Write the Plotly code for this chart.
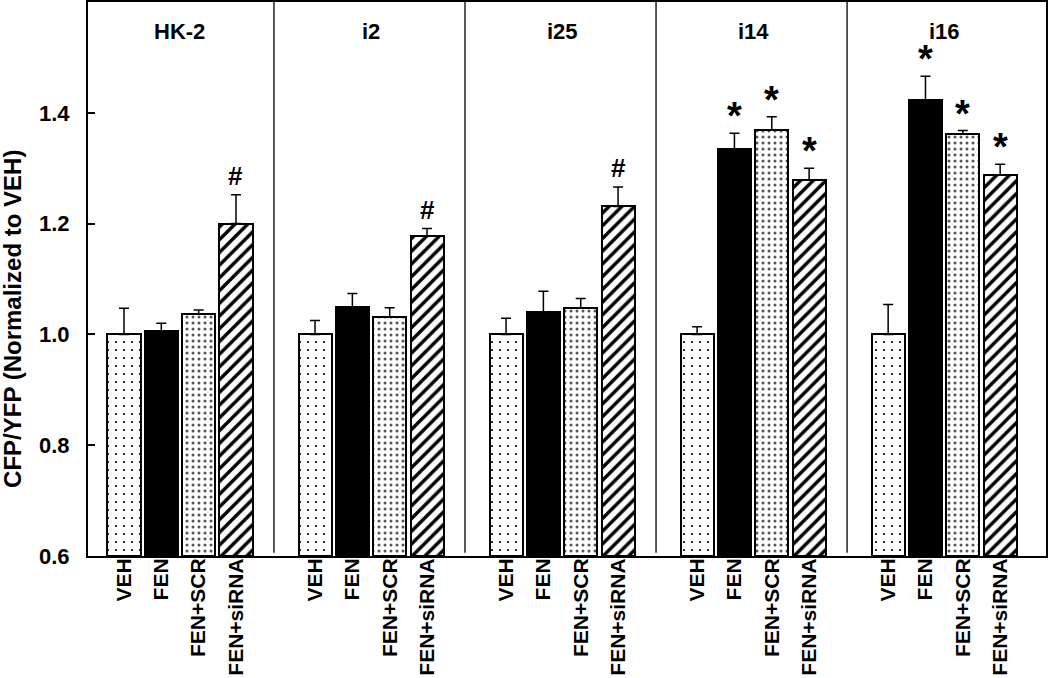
import plotly.graph_objects as go

# ---------------- data ----------------
groups = ["HK-2", "i2", "i25", "i14", "i16"]
treatments = ["VEH", "FEN", "FEN+SCR", "FEN+siRNA"]

veh_mean = [1.000, 1.000, 1.000, 1.000, 1.000]
veh_err = [0.047, 0.025, 0.029, 0.014, 0.054]
fen_mean = [1.006, 1.050, 1.040, 1.334, 1.423]
fen_err = [0.014, 0.024, 0.038, 0.029, 0.043]
scr_mean = [1.037, 1.032, 1.047, 1.369, 1.362]
scr_err = [0.007, 0.016, 0.018, 0.024, 0.006]
sirna_mean = [1.200, 1.178, 1.231, 1.279, 1.288]
sirna_err = [0.052, 0.013, 0.035, 0.021, 0.019]

veh_marks = ["", "", "", "", ""]
fen_marks = ["", "", "", "*", "*"]
scr_marks = ["", "", "", "*", "*"]
sirna_marks = ["#", "#", "#", "*", "*"]

y_ticks = [0.6, 0.8, 1.0, 1.2, 1.4]
y_title = "CFP/YFP (Normalized to VEH)"

# ---------------- layout helpers ----------------
FONT = "Liberation Sans, Arial, sans-serif"
GROUP_PITCH = 5.117
FIRST_CENTER = 2.464
X_MAX = 25.66
BAR_W = 0.885

series = [
    (veh_mean, veh_err, veh_marks,
     dict(color="white", line=dict(color="black", width=2),
          pattern=dict(shape=".", fgcolor="black", bgcolor="white", size=8, solidity=0.06, fillmode="replace"))),
    (fen_mean, fen_err, fen_marks,
     dict(color="black", line=dict(color="black", width=2))),
    (scr_mean, scr_err, scr_marks,
     dict(color="white", line=dict(color="black", width=2),
          pattern=dict(shape=".", fgcolor="#555555", bgcolor="white", size=6, solidity=0.2, fillmode="replace"))),
    (sirna_mean, sirna_err, sirna_marks,
     dict(color="white", line=dict(color="black", width=2),
          pattern=dict(shape="/", fgcolor="black", bgcolor="white", size=9, solidity=0.38, fillmode="replace"))),
]

def centers():
    return [FIRST_CENTER + GROUP_PITCH * g for g in range(len(groups))]

fig = go.Figure()
annotations = []
tickvals, ticktext = [], []
for j, (means, errs, marks, marker) in enumerate(series):
    xs = [c + (j - 1.5) for c in centers()]
    fig.add_trace(go.Bar(
        x=xs, y=[m - 0.6 for m in means], base=0.6, width=BAR_W,
        marker=marker, name=treatments[j], showlegend=False,
        error_y=dict(type="data", symmetric=False, array=errs,
                     arrayminus=[0] * len(errs), color="black", thickness=1.5, width=5),
    ))
    tickvals += xs
    ticktext += [treatments[j]] * len(xs)
    for x, m, e, s in zip(xs, means, errs, marks):
        if s:
            annotations.append(dict(
                x=x, y=m + e, xref="x", yref="y", text=s, showarrow=False,
                yanchor="bottom", xanchor="center",
                yshift=2 if s == "#" else -6,
                font=dict(family=FONT, size=26 if s == "#" else 38, color="black", weight="bold"),
            ))

# panel titles
for c, g in zip(centers(), groups):
    annotations.append(dict(x=c, y=1.546, xref="x", yref="y", text=g, showarrow=False,
                            xanchor="center", yanchor="middle",
                            font=dict(family=FONT, size=22, color="black", weight="bold")))

# y title
annotations.append(dict(x=0, y=0.428, xref="paper", yref="paper", text=y_title, showarrow=False,
                        textangle=-90, xanchor="center", yanchor="middle", xshift=-75,
                        font=dict(family=FONT, size=24, color="black", weight="bold")))

# dividers between panels
shapes = []
for c in centers()[1:]:
    xd = c - 2.6
    shapes.append(dict(type="line", xref="x", yref="paper", x0=xd, x1=xd, y0=0.006, y1=1,
                       line=dict(color="#222222", width=1.5)))

fig.update_layout(
    width=1050, height=678,
    margin=dict(l=88, r=4, t=2, b=122),
    paper_bgcolor="white", plot_bgcolor="white",
    bargap=0, barmode="overlay",
    annotations=annotations, shapes=shapes,
    font=dict(family=FONT, color="black", weight="bold"),
    xaxis=dict(range=[0, X_MAX], tickmode="array", tickvals=tickvals, ticktext=ticktext,
               tickangle=-90, ticks="", ticklen=0, showgrid=False, zeroline=False,
               showline=True, linecolor="black", linewidth=2, mirror=True,
               automargin=False, ticklabelstandoff=-8,
               tickfont=dict(family=FONT, size=21, color="black", weight="bold")),
    yaxis=dict(range=[0.6, 1.6], tickmode="array", tickvals=y_ticks, tickformat=".1f",
               ticks="inside", ticklen=7, tickwidth=1.5, tickcolor="black",
               showgrid=False, zeroline=False,
               showline=True, linecolor="black", linewidth=2, mirror=True,
               ticklabelstandoff=12, automargin=False,
               tickfont=dict(family=FONT, size=22, color="black", weight="bold")),
)

fig.write_html("out.html", config={"displayModeBar": False},
               post_script="document.body.style.margin='0';document.body.style.overflow='hidden';")
